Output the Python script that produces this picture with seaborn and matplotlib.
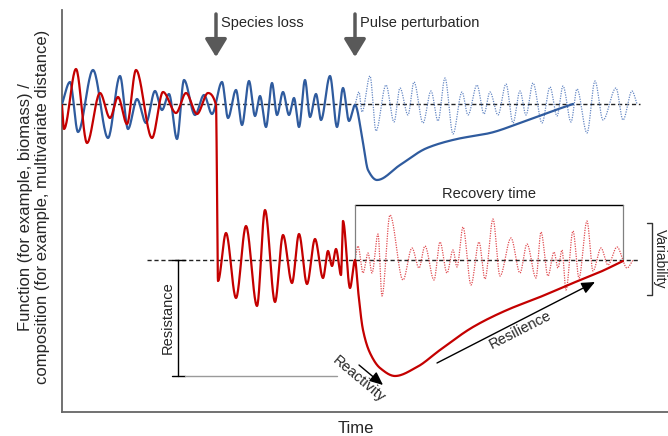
import numpy as np
import pandas as pd
import matplotlib
matplotlib.use("Agg")
import matplotlib.pyplot as plt
import seaborn as sns

# ---- data: (time, level) turning points of each trajectory ----
# community with full diversity, then pulse response
blue_t = [0, 8, 16, 31, 46, 58, 66, 75, 84, 93, 100, 107, 115, 122, 133, 142, 150,
          160, 166, 174, 180, 187, 193, 198, 204, 210, 215, 221, 227, 232, 237, 243,
          248, 254, 259, 268, 275, 281, 287, 293,
          301, 306, 315, 338, 365, 395, 428, 458, 485, 511]
blue_v = [308, 330, 280, 342, 274, 336, 283, 313, 289, 321, 302, 318, 273, 332, 297, 317, 298,
          330, 294, 322, 287, 331, 296, 316, 285, 329, 297, 320, 297, 314, 285, 332,
          295, 318, 292, 336, 285, 324, 291, 307,
          269, 242, 232, 247, 264, 273, 279, 289, 299, 308]

# undisturbed reference dynamics after the pulse
blue_ref_t = [293, 297, 300, 308, 314, 324, 332, 338, 346, 352, 361, 369, 376, 383, 391,
              400, 406, 415, 422, 428, 436, 444, 451, 458, 464, 471, 480, 488, 495, 501,
              509, 515, 525, 533, 541, 554, 561, 570, 575]
blue_ref_v = [307, 320, 300, 336, 281, 327, 290, 324, 297, 330, 289, 321, 291, 334, 278,
              320, 297, 327, 298, 320, 297, 328, 289, 321, 297, 329, 289, 325, 296, 326,
              290, 323, 279, 331, 292, 324, 292, 321, 308]

# community before and after species loss, then pulse response
red_t = [0, 2, 14, 25, 38, 48, 56, 65, 74, 90, 101, 114, 124, 135, 146, 154,
         156, 164, 174, 184, 195, 203, 213, 221, 230, 237, 245, 253, 261, 266, 270,
         274, 279, 281, 288, 293,
         296, 301, 308, 318, 333, 355, 378, 411, 445, 478, 511, 538, 561]
red_v = [307, 283, 343, 269, 319, 294, 315, 288, 342, 274, 320, 299, 319, 298, 319, 307,
         131, 179, 114, 186, 106, 202, 110, 177, 129, 178, 128, 173, 134, 161, 146,
         163, 137, 191, 124, 152,
         122, 82, 59, 44, 36, 45, 62, 85, 102, 115, 129, 140, 151]

red_ref_t = [293, 296, 301, 306, 310, 316, 320, 328, 341, 350, 357, 363, 372, 378, 385,
             391, 395, 401, 409, 417, 423, 431, 438, 449, 458, 465, 474, 479, 486, 492,
             496, 500, 504, 511, 517, 525, 531, 539, 546, 555, 565, 571]
red_ref_v = [152, 166, 139, 159, 139, 178, 116, 197, 132, 164, 144, 166, 132, 170, 139,
             162, 145, 185, 127, 170, 133, 193, 136, 174, 139, 168, 134, 180, 136, 160,
             144, 162, 122, 181, 134, 191, 141, 164, 147, 165, 144, 152]

baseline_high = 308
baseline_low = 152

BLUE = "#2f5b9e"
BLUE_LIGHT = "#6487c4"
RED = "#c40000"
RED_LIGHT = "#e04a4f"
GREY = "#595959"


def smooth_through(t, v, per_seg=24):
    """Shape-preserving cubic Hermite curve through the given turning points."""
    t = np.asarray(t, float)
    v = np.asarray(v, float)
    h = np.diff(t)
    d = np.diff(v) / h
    m = np.zeros_like(v)
    for k in range(1, len(v) - 1):
        if d[k - 1] * d[k] > 0:
            w1 = 2 * h[k] + h[k - 1]
            w2 = h[k] + 2 * h[k - 1]
            m[k] = (w1 + w2) / (w1 / d[k - 1] + w2 / d[k])
    m[0] = d[0]
    m[-1] = d[-1]
    xs, ys = [], []
    for k in range(len(h)):
        s = np.linspace(0, 1, per_seg, endpoint=(k == len(h) - 1))
        h00 = 2 * s**3 - 3 * s**2 + 1
        h10 = s**3 - 2 * s**2 + s
        h01 = -2 * s**3 + 3 * s**2
        h11 = s**3 - s**2
        xs.append(t[k] + s * h[k])
        ys.append(h00 * v[k] + h10 * h[k] * m[k] + h01 * v[k + 1] + h11 * h[k] * m[k + 1])
    return pd.DataFrame({"time": np.concatenate(xs), "level": np.concatenate(ys)})


sns.set_theme(style="white")
plt.rcParams["font.family"] = ["Liberation Sans", "DejaVu Sans"]

fig = plt.figure(figsize=(6.68, 4.36), dpi=100)
ax = fig.add_axes([62 / 668, 24 / 436, 606 / 668, 402 / 436])
ax.set_xlim(0, 606)
ax.set_ylim(0, 402)

# reference levels
ax.plot([0, 578], [baseline_high] * 2, color="#222222", lw=1.0, dashes=(3, 2), zorder=1)
ax.plot([85, 578], [baseline_low] * 2, color="#222222", lw=1.0, dashes=(3, 2), zorder=1)

# trajectories
sns.lineplot(data=smooth_through(blue_ref_t, blue_ref_v), x="time", y="level", ax=ax,
             sort=False, estimator=None, color=BLUE_LIGHT, lw=0.9,
             linestyle=(0, (1, 1)), zorder=2)
sns.lineplot(data=smooth_through(red_ref_t, red_ref_v), x="time", y="level", ax=ax,
             sort=False, estimator=None, color=RED_LIGHT, lw=0.9,
             linestyle=(0, (1, 1)), zorder=2)
sns.lineplot(data=smooth_through(blue_t, blue_v), x="time", y="level", ax=ax,
             sort=False, estimator=None, color=BLUE, lw=1.6, zorder=3)
sns.lineplot(data=smooth_through(red_t, red_v), x="time", y="level", ax=ax,
             sort=False, estimator=None, color=RED, lw=1.6, zorder=4)

# disturbance arrows
for t_evt, label in [(154, "Species loss"), (293, "Pulse perturbation")]:
    ax.annotate("", xy=(t_evt, 355), xytext=(t_evt, 398),
                arrowprops=dict(arrowstyle="-|>,head_length=0.9,head_width=0.55",
                                mutation_scale=12, lw=2.5, color=GREY,
                                shrinkA=0, shrinkB=0), annotation_clip=False)
    ax.text(t_evt + 5, 389, label, fontsize=10.5, ha="left", va="center")

# resistance bracket
ax.plot([116, 116], [baseline_low, 36], color="black", lw=1.0)
ax.plot([110, 123], [baseline_low, baseline_low], color="black", lw=1.0)
ax.plot([110, 123], [36, 36], color="black", lw=1.0)
ax.plot([123, 275], [36, 36], color="#9a9a9a", lw=1.0)
ax.text(106, 94, "Resistance", rotation=90, fontsize=10.5, ha="center", va="center")

# recovery time bracket
ax.plot([293, 561], [207, 207], color="black", lw=1.0)
ax.plot([293, 293], [207, baseline_low], color="#808080", lw=0.9)
ax.plot([561, 561], [207, baseline_low], color="#808080", lw=0.9)
ax.text(427, 218, "Recovery time", fontsize=10.5, ha="center", va="center")

# variability bracket
ax.plot([585, 590, 590, 585], [189, 189, 117, 117], color="#333333", lw=1.0)
ax.text(598, 153, "Variability", rotation=-90, fontsize=10, ha="center", va="center",
        clip_on=False)

# reactivity and resilience arrows
ax.annotate("", xy=(321, 27), xytext=(297, 47),
            arrowprops=dict(arrowstyle="-|>,head_length=0.8,head_width=0.35",
                            mutation_scale=10, lw=1.0, color="black",
                            shrinkA=0, shrinkB=0))
ax.text(297, 33, "Reactivity", rotation=-40, fontsize=10.5, ha="center", va="center",
        rotation_mode="anchor")
ax.annotate("", xy=(533, 130), xytext=(375, 49),
            arrowprops=dict(arrowstyle="-|>,head_length=0.8,head_width=0.35",
                            mutation_scale=10, lw=1.0, color="black",
                            shrinkA=0, shrinkB=0))
ax.text(458, 82, "Resilience", rotation=27, fontsize=10.5, ha="center", va="center",
        rotation_mode="anchor")

# axes frame and labels
ax.set_xticks([])
ax.set_yticks([])
for side in ["top", "right"]:
    ax.spines[side].set_visible(False)
for side in ["left", "bottom"]:
    ax.spines[side].set_color("#666666")
    ax.spines[side].set_linewidth(1.3)

ax.set_xlabel("Time", fontsize=12)
ax.xaxis.label.set_va("center")
ax.xaxis.set_label_coords(294 / 606, -16 / 402)
ax.set_ylabel("Function (for example, biomass) /\ncomposition (for example, multivariate distance)",
              fontsize=12, linespacing=1.1)
ax.yaxis.label.set_va("center")
ax.yaxis.set_label_coords(-28 / 606, 205 / 402)

fig.savefig("out.png", dpi=100)
